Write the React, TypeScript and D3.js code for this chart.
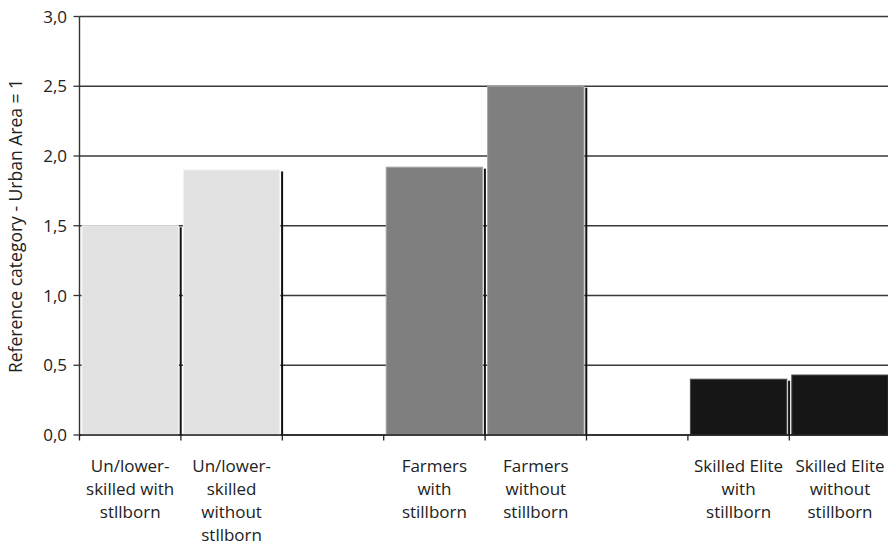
import React from "react";
import * as d3 from "d3";

// Relative risk by social group, reference category = urban area
const categories: string[][] = [
  ["Un/lower-", "skilled with", "stllborn"],
  ["Un/lower-", "skilled", "without", "stllborn"],
  [],
  ["Farmers", "with", "stillborn"],
  ["Farmers", "without", "stillborn"],
  [],
  ["Skilled Elite", "with", "stillborn"],
  ["Skilled Elite", "without", "stillborn"],
];
const values: (number | null)[] = [1.5, 1.9, null, 1.92, 2.5, null, 0.4, 0.43];
const barColors: string[] = ["#e1e2e1", "#e1e2e1", "", "#7f7f7f", "#7f7f7f", "", "#161616", "#161616"];
const barEdges: string[] = ["#f2f2f2", "#f2f2f2", "", "#a6a6a6", "#a6a6a6", "", "#4a4a4a", "#4a4a4a"];
const yTicks: number[] = [0, 0.5, 1, 1.5, 2, 2.5, 3];
const yTitle = "Reference category - Urban Area = 1";

const W = 888;
const H = 543;
const left = 79.5;
const right = 890.7;
const top = 16.5;
const bottom = 435;
const font = "'Open Sans', sans-serif";

export default function App() {
  const x = d3.scaleBand<number>().domain(d3.range(categories.length)).range([left, right]).padding(0);
  const y = d3.scaleLinear().domain([0, 3]).range([bottom, top]);
  const fmt = (v: number) => d3.format(".1f")(v).replace(".", ",");
  const bw = x.bandwidth();

  return (
    <svg width={W} height={H} style={{ position: "absolute", left: 0, top: 0, background: "#fff" }}>
      {/* gridlines */}
      {yTicks.map((t) => (
        <line key={"g" + t} x1={left} x2={W} y1={y(t)} y2={y(t)} stroke="#3a3a3a" strokeWidth={1.3} />
      ))}
      {/* bars with dark right-hand edge */}
      {values.map((v, i) => {
        if (v == null) return null;
        const x0 = x(i)!;
        const x1 = x0 + bw;
        return (
          <g key={"b" + i}>
            <rect
              x={x0 + 2.5}
              y={y(v)}
              width={bw - 5}
              height={bottom - y(v)}
              fill={barColors[i]}
              stroke={barEdges[i]}
              strokeWidth={1}
            />
            <rect x={x1 - 1.2} y={y(v) + 1.5} width={2} height={bottom - y(v) - 1.5} fill="#111" />
          </g>
        );
      })}
      {/* y axis */}
      <line x1={left} x2={left} y1={top} y2={bottom} stroke="#333" strokeWidth={1.4} />
      {yTicks.map((t) => (
        <g key={"t" + t}>
          <line x1={left - 6} x2={left} y1={y(t)} y2={y(t)} stroke="#333" strokeWidth={1.3} />
          <text x={67} y={y(t)} dy="0.36em" textAnchor="end" fontFamily={font} fontSize={17} fill="#222">
            {fmt(t)}
          </text>
        </g>
      ))}
      {/* x axis */}
      <line x1={left} x2={W} y1={bottom} y2={bottom} stroke="#222" strokeWidth={1.6} />
      {d3.range(categories.length + 1).map((i) => {
        const xx = i < categories.length ? x(i)! : right;
        return <line key={"xt" + i} x1={xx} x2={xx} y1={bottom} y2={bottom + 5.5} stroke="#222" strokeWidth={1.3} />;
      })}
      {categories.map((lines, i) => (
        <text key={"c" + i} textAnchor="middle" fontFamily={font} fontSize={17} fill="#222">
          {lines.map((l, j) => (
            <tspan key={j} x={x(i)! + bw / 2} y={471.5 + j * 23.2}>
              {l}
            </tspan>
          ))}
        </text>
      ))}
      <text
        transform={`translate(22, ${(82 + 370) / 2}) rotate(-90)`}
        textAnchor="middle"
        fontFamily={font}
        fontSize={17.5}
        fill="#222"
      >
        {yTitle}
      </text>
    </svg>
  );
}
